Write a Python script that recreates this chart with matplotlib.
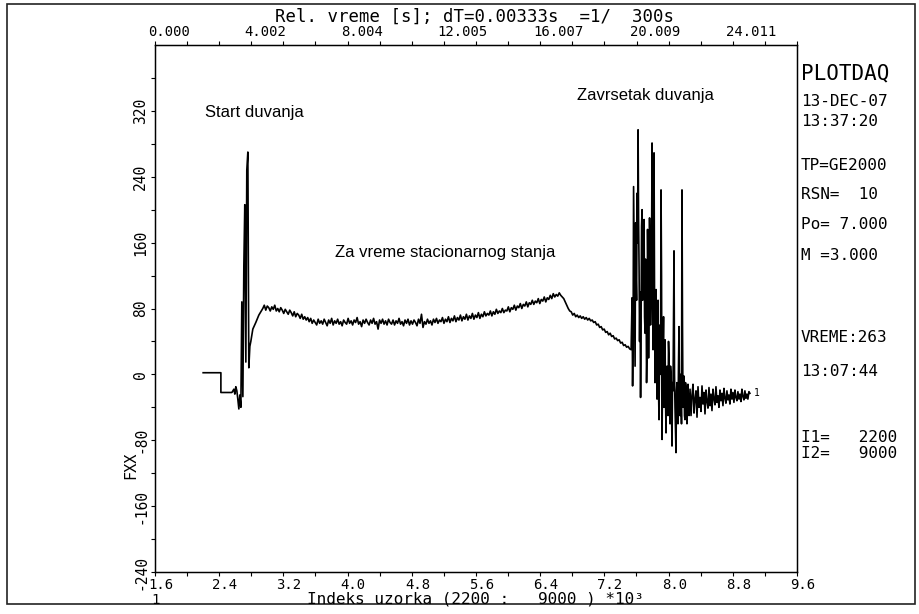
import numpy as np
import matplotlib
matplotlib.use("Agg")
import matplotlib.pyplot as plt
import matplotlib.transforms as mtransforms
from matplotlib.patches import Rectangle

W, H = 920, 614

# pocetak duvanja (indeks uzorka u hiljadama, FXX)
start_idx = [2.200, 2.421, 2.421, 2.558, 2.583, 2.595, 2.607, 2.620, 2.632, 2.645,
             2.657, 2.670, 2.682, 2.695, 2.707, 2.719, 2.732, 2.744, 2.757, 2.769,
             2.782, 2.794, 2.819, 2.856, 2.894, 2.931]
start_fxx = [2, 2, -22, -22, -18, -24, -15, -20, -30, -42,
             -25, -40, 88, -27, 131, 206, 15, 248, 270, 8,
             34, 40, 55, 63, 72, 78]

# stacionarno stanje, ravnomerno uzorkovano
steady_span = (2.943, 7.533)
steady_fxx = [80, 84, 78, 83, 81, 77, 82, 79, 84, 77,
              80, 76, 81, 78, 74, 79, 76, 73, 78, 75,
              71, 76, 70, 74, 72, 68, 73, 67, 70, 66,
              69, 64, 68, 62, 66, 63, 60, 67, 62, 65,
              61, 67, 63, 59, 66, 62, 68, 60, 65, 62,
              67, 61, 64, 59, 66, 63, 61, 68, 62, 65,
              60, 66, 63, 69, 61, 64, 58, 66, 62, 67,
              63, 60, 66, 62, 68, 61, 64, 55, 66, 62,
              67, 61, 65, 60, 67, 63, 61, 66, 60, 65,
              62, 68, 61, 64, 59, 66, 62, 67, 60, 65,
              61, 66, 63, 59, 67, 62, 73, 57, 64, 61,
              67, 62, 65, 60, 67, 63, 68, 62, 66, 64,
              69, 62, 67, 64, 70, 63, 68, 65, 71, 64,
              69, 66, 72, 65, 70, 67, 73, 66, 71, 68,
              74, 67, 72, 69, 75, 68, 73, 70, 76, 71,
              74, 72, 77, 71, 76, 73, 79, 74, 77, 75,
              80, 75, 78, 77, 82, 76, 81, 79, 84, 78,
              83, 81, 86, 80, 85, 83, 88, 82, 87, 85,
              90, 85, 89, 87, 92, 86, 91, 89, 94, 88,
              93, 91, 96, 92, 98, 94, 97, 95, 99, 96,
              94, 92, 88, 84, 80, 77, 76, 72, 74, 70,
              72, 69, 71, 68, 70, 67, 69, 66, 68, 65,
              66, 63, 64, 60, 61, 57, 58, 54, 55, 51,
              52, 48, 50, 46, 47, 43, 44, 41, 42, 38,
              39, 35, 36, 33, 34, 31, 30]

# zavrsetak duvanja
burst_span = (7.545, 8.254)
burst_fxx = [93, -14, 40, 228, 150, 60, 10, 184, 120, 90,
             220, 160, 297, 190, 130, 40, 100, -28, 60, 180,
             200, 90, 120, 170, 188, 70, 50, 140, 110, -10,
             30, 176, 120, 20, 80, 190, 140, 60, 100, 150,
             281, 110, 30, 200, 269, 90, -10, 60, 103, 20,
             -30, 50, 90, -20, -55, 30, 60, 0, 224, 120,
             -79, -10, 30, 70, -40, 10, 42, -30, -71, 0,
             10, -20, -50, 40, 20, -35, -60, 10, 0, -45,
             -87, -10, -20, 60, 150, 0, -40, -65, -95, -20,
             -10, -45, -60, 10, 58, -30, -50, 0, -20, -60,
             224, 60, -40, -15, -2, -50, -55, -10, -15, -45,
             -60, -25, -12, -40, -50]

tail_span = (8.267, 9.013)
tail_fxx = [-18, -50, -25, -12, -47, -30, -20, -52, -15, -40,
            -28, -45, -14, -36, -22, -48, -19, -33, -41, -16,
            -38, -24, -44, -18, -30, -37, -15, -34, -26, -40,
            -19, -32, -23, -38, -17, -29, -35, -20, -31, -25,
            -36, -18, -30, -22, -34, -19, -28, -32, -21, -30,
            -24, -33, -18, -27, -31, -20, -29, -24, -30, -21,
            -23]

x_ticks = [1.6, 2.4, 3.2, 4.0, 4.8, 5.6, 6.4, 7.2, 8.0, 8.8, 9.6]
y_ticks = [-240, -160, -80, 0, 80, 160, 240, 320]
top_ticks = [1.6, 2.8, 4.0, 5.2, 6.4, 7.6, 8.8]
top_labels = ["0.000", "4.002", "8.004", "12.005", "16.007", "20.009", "24.011"]

info_lines = [("PLOTDAQ", 73, 15), ("13-DEC-07", 102, 11.5), ("13:37:20", 122, 11.5),
              ("TP=GE2000", 165, 11.5), ("RSN=  10", 195, 11.5), ("Po= 7.000", 225, 11.5),
              ("M =3.000", 255, 11.5), ("VREME:263", 338, 11.5), ("13:07:44", 371, 11.5),
              ("I1=   2200", 437, 11.5), ("I2=   9000", 453, 11.5)]

plt.rcParams["font.family"] = ["DejaVu Sans Mono"]

x = np.concatenate([start_idx,
                    np.linspace(*steady_span, len(steady_fxx)),
                    np.linspace(*burst_span, len(burst_fxx)),
                    np.linspace(*tail_span, len(tail_fxx))])
y = np.concatenate([start_fxx, steady_fxx, burst_fxx, tail_fxx])

fig = plt.figure(figsize=(W / 100, H / 100), dpi=100)
ax = fig.add_axes([155 / W, 1 - 572 / H, (797 - 155) / W, (572 - 45) / H])

ax.plot(x, y, color="black", lw=1.2)
ax.text(x[-1] + 0.05, y[-1], "1", fontsize=7, va="center")

ax.set_xlim(1.6, 9.6)
ax.set_ylim(-240, 400)
for s in ax.spines.values():
    s.set_linewidth(1.0)

ax.set_xticks(x_ticks)
ax.set_xticks(np.arange(1.6, 9.61, 0.4), minor=True)
ax.set_xticklabels([f"{t:.1f}" for t in x_ticks], fontsize=10)
ax.set_yticks(y_ticks)
ax.set_yticks(np.arange(-240, 361, 40), minor=True)
ax.set_yticklabels([str(t) for t in y_ticks], fontsize=10.5, rotation=90, va="center")
ax.tick_params(which="both", direction="out", length=3, width=0.8, top=False, right=False)
ax.tick_params(axis="x", pad=1)
ax.tick_params(axis="y", pad=2)

off = mtransforms.ScaledTranslation(-5 / 72, 0, fig.dpi_scale_trans)
for lbl in ax.get_xticklabels():
    lbl.set_ha("left")
    lbl.set_transform(lbl.get_transform() + off)

# gornja osa: relativno vreme
top = ax.twiny()
top.set_xlim(ax.get_xlim())
top.set_xticks(top_ticks)
top.set_xticks(np.arange(1.6, 9.61, 0.4), minor=True)
top.set_xticklabels(top_labels, fontsize=10)
top.tick_params(which="both", direction="out", length=3, width=0.8, pad=1)
for lbl in top.get_xticklabels():
    lbl.set_ha("left")
    lbl.set_transform(lbl.get_transform() + off)

ax.text(2.22, 318, "Start duvanja", fontsize=12, family="Liberation Sans", va="center")
ax.text(6.86, 339, "Zavrsetak duvanja", fontsize=12, family="Liberation Sans", va="center")
ax.text(3.84, 148, "Za vreme stacionarnog stanja", fontsize=12, family="Liberation Sans",
        va="center")

fig.text(475 / W, 1 - 17 / H, "Rel. vreme [s]; dT=0.00333s  =1/  300s", fontsize=12.5,
         ha="center", va="center")
fig.text(475 / W, 1 - 607 / H, "Indeks uzorka (2200 :   9000 ) *10³", fontsize=11.5,
         ha="center", va="bottom")
fig.text(151 / W, 1 - 607 / H, "1", fontsize=10, va="bottom")
fig.text(131 / W, 1 - 465 / H, "FXX", fontsize=11, rotation=90, ha="center", va="center")

for txt, ypx, fs in info_lines:
    fig.text(801 / W, 1 - ypx / H, txt, fontsize=fs, va="center")

fig.add_artist(Rectangle((7 / W, 1 - 604 / H), (915 - 7) / W, (604 - 4) / H,
                         transform=fig.transFigure, fill=False, lw=1.2, ec="#222222"))

fig.savefig("out.png", dpi=100)
